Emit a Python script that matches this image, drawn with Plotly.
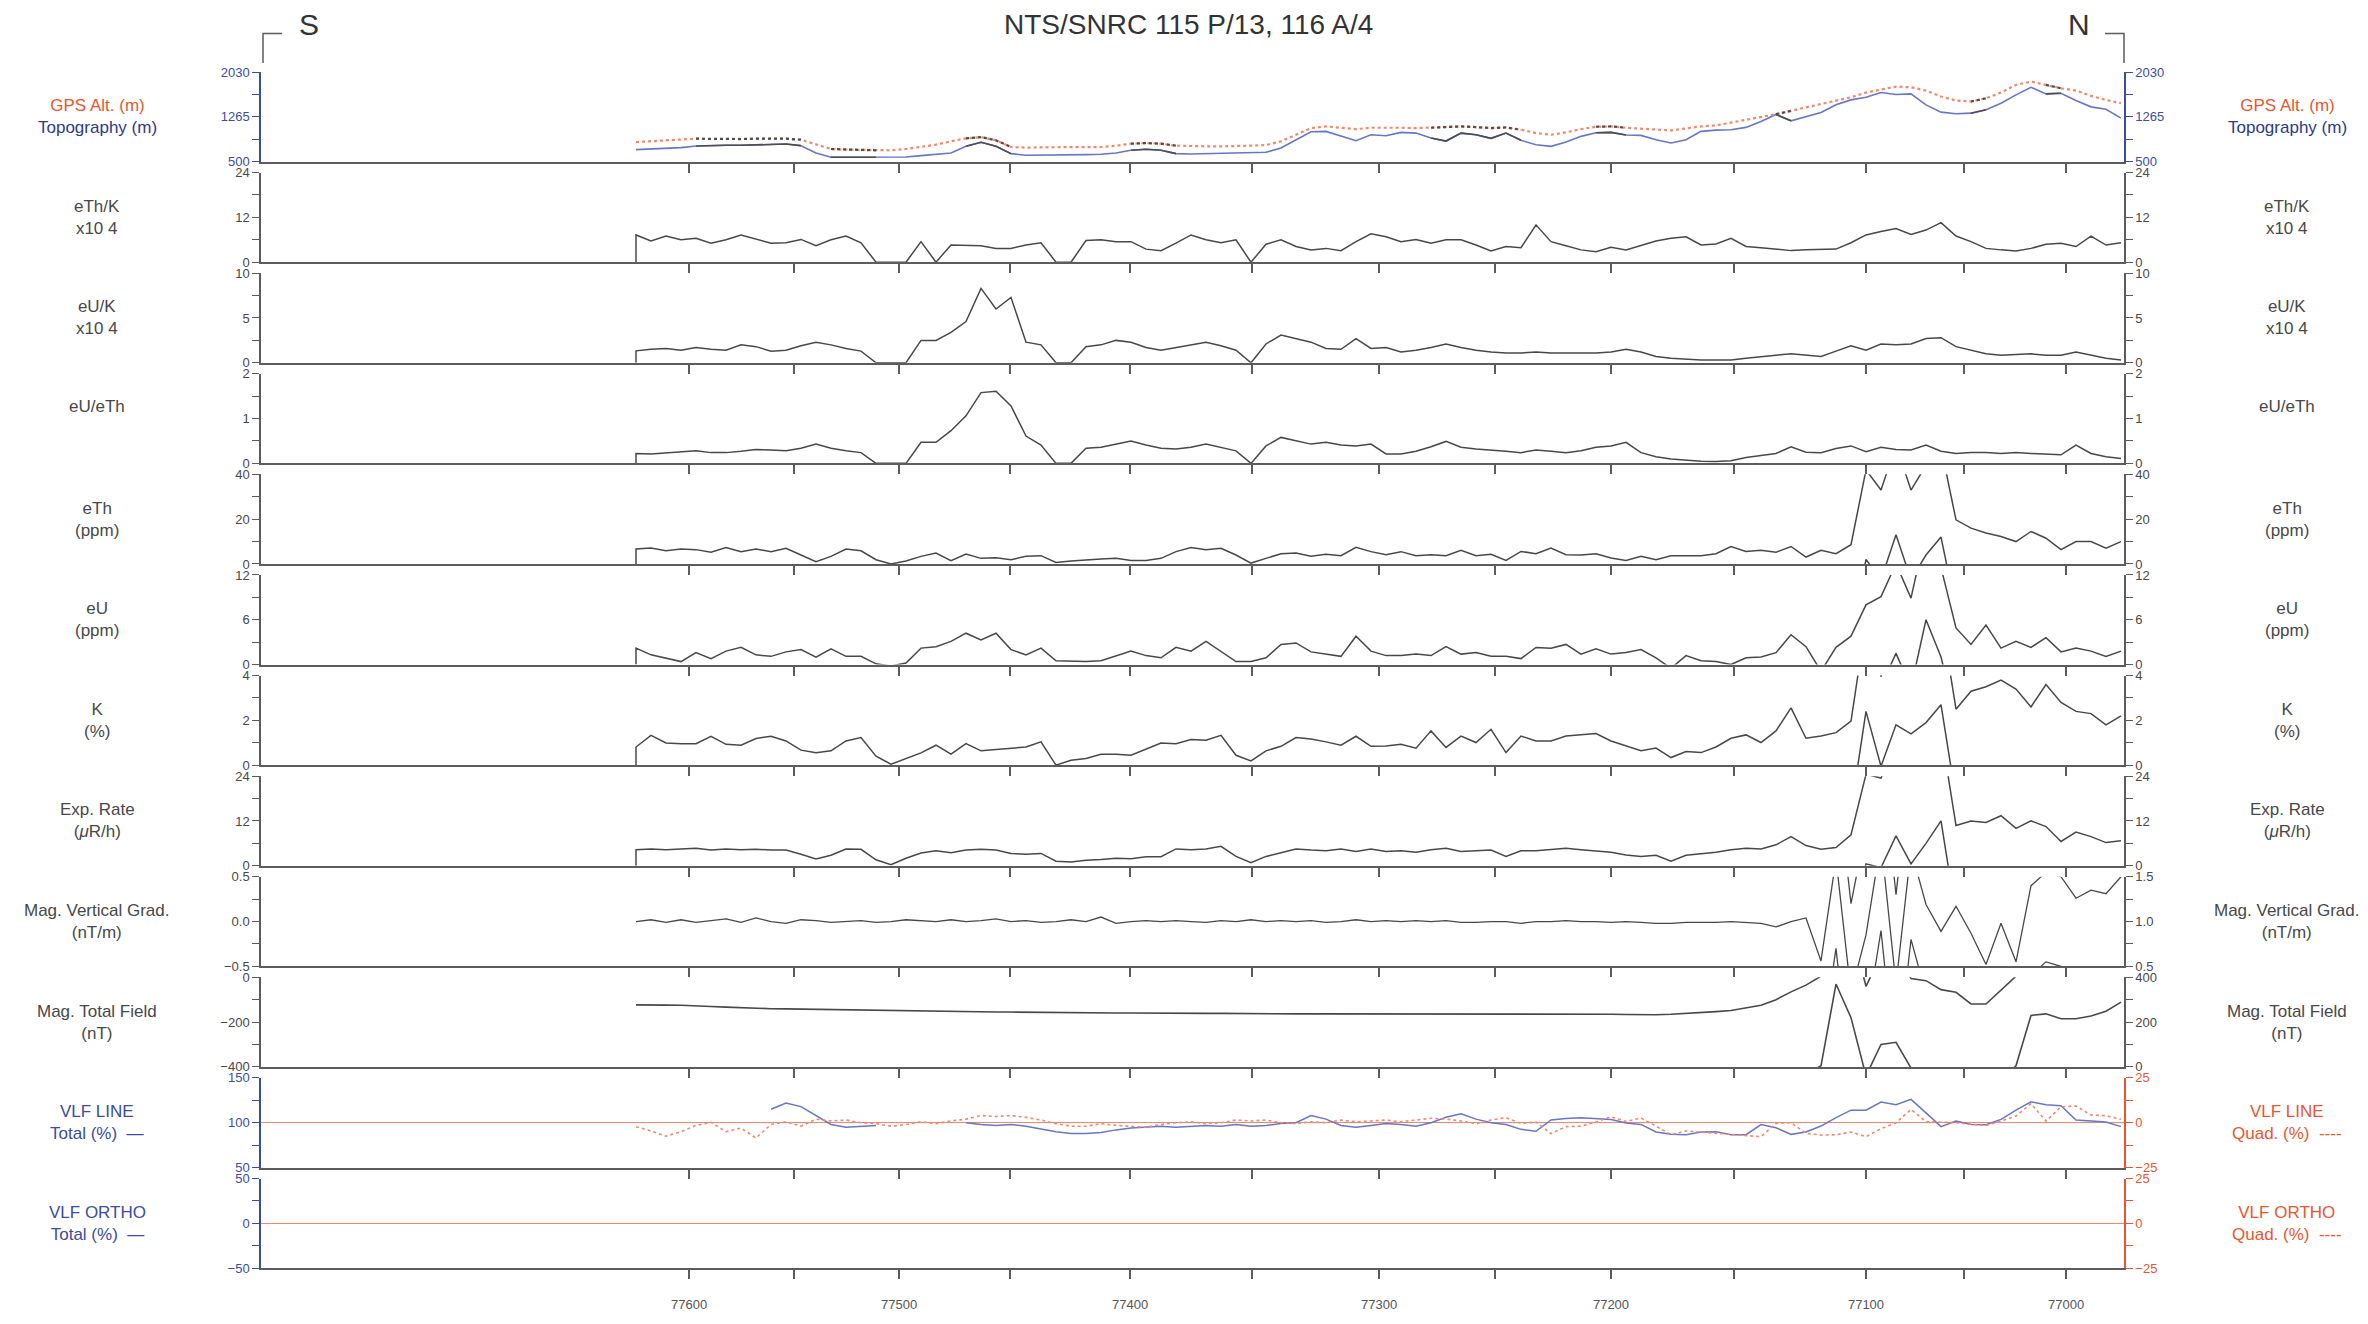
import numpy as np
import plotly.graph_objects as go

FONT = "Liberation Sans, Arial, sans-serif"
INK = "#484848"
AXIS = "#5c5c5c"
BLUE = "#3b4ca3"
BLUE_LINE = "#6676c8"
RED = "#ea5530"
RED_LINE = "#f3876b"

# along-line distance (km) of the samples, one every 0.5 km
DIST = [round(12.5 + 0.5 * k, 1) for k in range(100)]

# fiducial ticks along the flight line
FID = [77600, 77550, 77500, 77450, 77400, 77350, 77300, 77250, 77200, 77150, 77100, 77050, 77000]
FID_KM = [14.27, 17.77, 21.27, 24.97, 28.97, 33.03, 37.27, 41.13, 45.0, 49.1, 53.5, 56.77, 60.17]
LINE_KM = 62.1

# stretches where the altitude traces are drawn dark (km)
DARK_RUNS = [(14.5, 18.0), (19.0, 20.5), (23.5, 25.0), (29.0, 30.5), (39.0, 42.0),
             (44.5, 45.5), (50.5, 51.0), (57.0, 57.5), (59.5, 60.0)]

GPS_ALT = [834, 846, 857, 868, 891, 885, 885, 885, 891, 891, 891, 874, 789, 715, 704, 704, 693, 693, 715, 749,
           789, 846, 897, 919, 863, 749, 738, 744, 744, 744, 744, 749, 772, 806, 817, 806, 772, 761, 761, 761,
           761, 772, 783, 846, 959, 1072, 1101, 1072, 1055, 1078,
           1084, 1078, 1072, 1078, 1095, 1101, 1089, 1072, 1084, 1044, 987, 959, 999, 1055, 1095, 1101, 1078, 1061, 1038, 1033,
           1067, 1101, 1118, 1163, 1208, 1259, 1310, 1367, 1424, 1475, 1531, 1599, 1679, 1735, 1781, 1769, 1713, 1611, 1543, 1526,
           1582, 1679, 1809, 1866, 1809, 1752, 1713, 1622, 1554, 1497]
TOPO = [704, 715, 727, 738, 766, 778, 778, 778, 783, 789, 800, 772, 647, 574, 574, 579, 574, 574, 579, 602,
        625, 647, 761, 829, 761, 636, 608, 608, 608, 613, 619, 625, 647, 693, 710, 693, 636, 630, 636, 642,
        642, 647, 659, 732, 874, 1010, 1016, 942, 857, 959,
        942, 999, 987, 902, 851, 987, 959, 897, 987, 863, 789, 761, 834, 931, 993, 999, 953, 948, 874, 817,
        874, 1016, 1038, 1044, 1084, 1186, 1305, 1197, 1271, 1339, 1469, 1554, 1599, 1679, 1645, 1656, 1469, 1344, 1316, 1327,
        1384, 1497, 1639, 1769, 1656, 1667, 1543, 1435, 1395, 1242]
ETH_K = [7.3, 5.7, 7.0, 6.0, 6.4, 5.1, 6.0, 7.3, 6.1, 5.1, 5.2, 6.1, 4.4, 6.0, 7.0, 5.2, 0, 0, 0, 5.5,
         0, 4.6, 4.6, 4.4, 3.7, 3.7, 4.6, 5.2, 0, 0, 5.8, 6.0, 5.5, 5.5, 3.5, 3.1, 5.1, 7.3, 6.0, 5.2,
         6.0, 0, 4.8, 6.0, 4.2, 3.3, 3.7, 3.1, 5.5, 7.6,
         6.8, 5.5, 6.1, 5.1, 6.0, 6.0, 4.6, 3.0, 4.2, 3.9, 10.0, 5.5, 4.4, 3.3, 2.8, 4.0, 3.3, 4.6, 5.7, 6.4,
         6.8, 4.6, 4.9, 6.4, 4.2, 3.9, 3.5, 3.1, 3.3, 3.5, 3.5, 5.2, 7.3, 8.2, 9.0, 7.4, 8.6, 10.6, 7.0, 5.5,
         3.7, 3.3, 3.0, 3.7, 4.8, 5.1, 4.2, 7.0, 4.6, 5.2]
EU_K = [1.33, 1.5, 1.6, 1.4, 1.7, 1.5, 1.4, 2.0, 1.8, 1.3, 1.4, 1.9, 2.3, 2.0, 1.6, 1.3, 0, 0, 0, 2.5,
        2.5, 3.4, 4.6, 8.3, 6.0, 7.3, 2.3, 2.0, 0, 0, 1.8, 2.0, 2.5, 2.3, 1.7, 1.4, 1.7, 2.0, 2.3, 1.9,
        1.4, 0, 2.1, 3.1, 2.7, 2.3, 1.6, 1.5, 2.7, 1.6,
        1.7, 1.2, 1.4, 1.7, 2.1, 1.7, 1.4, 1.2, 1.1, 1.1, 1.2, 1.1, 1.1, 1.1, 1.1, 1.2, 1.5, 1.2, 0.7, 0.5,
        0.4, 0.3, 0.3, 0.3, 0.5, 0.7, 0.85, 1.0, 0.85, 0.7, 1.3, 1.9, 1.4, 2.1, 2.0, 2.1, 2.7, 2.8, 1.8, 1.4,
        1.0, 0.85, 0.9, 1.0, 0.85, 0.85, 1.2, 0.85, 0.5, 0.3]
EU_ETH = [0.22, 0.21, 0.23, 0.25, 0.28, 0.24, 0.24, 0.27, 0.31, 0.30, 0.28, 0.34, 0.43, 0.34, 0.28, 0.24, 0, 0, 0, 0.47,
          0.47, 0.73, 1.06, 1.58, 1.61, 1.28, 0.61, 0.41, 0, 0, 0.34, 0.36, 0.43, 0.50, 0.41, 0.34, 0.32, 0.36, 0.43, 0.36,
          0.28, 0, 0.39, 0.58, 0.50, 0.43, 0.47, 0.41, 0.39, 0.43,
          0.21, 0.21, 0.27, 0.37, 0.49, 0.36, 0.32, 0.30, 0.27, 0.24, 0.30, 0.27, 0.24, 0.28, 0.36, 0.39, 0.47, 0.24, 0.15, 0.10,
          0.07, 0.05, 0.04, 0.06, 0.13, 0.17, 0.22, 0.37, 0.25, 0.24, 0.33, 0.39, 0.26, 0.36, 0.31, 0.30, 0.41, 0.27, 0.22, 0.24,
          0.24, 0.22, 0.24, 0.22, 0.21, 0.19, 0.41, 0.22, 0.15, 0.11]
ETH = [6.7, 7.1, 5.9, 6.7, 6.4, 5.2, 7.3, 5.5, 6.7, 5.5, 7.0, 4.0, 1.0, 3.4, 6.7, 5.9, 1.9, 0, 1.3, 3.4,
       4.9, 1.5, 4.4, 2.5, 2.8, 1.9, 3.4, 3.7, 0.7, 1.3, 1.9, 2.2, 2.5, 1.6, 1.6, 2.5, 5.5, 7.3, 6.4, 7.0,
       4.0, 0.4, 2.5, 4.6, 4.9, 3.4, 4.3, 3.7, 7.4, 5.5,
       4.1, 5.5, 3.7, 4.1, 3.7, 6.1, 3.7, 4.3, 1.6, 5.6, 4.6, 7.1, 4.1, 4.0, 4.6, 2.7, 1.6, 3.4, 1.9, 3.7,
       3.7, 3.7, 4.6, 7.8, 5.6, 6.1, 5.2, 7.8, 3.1, 6.1, 4.6, 8.6, 42, 33, 53, 33, 44, 52, 19.7, 16,
       13.8, 12.3, 10, 14.5, 11.5, 6.4, 10, 10, 7.1, 10]
EU = [2.2, 1.3, 0.9, 0.4, 1.6, 0.8, 1.8, 2.3, 1.3, 1.1, 1.7, 2.0, 1.0, 2.1, 1.1, 1.1, 0.1, -0.2, 0.2, 2.2,
      2.4, 3.1, 4.2, 3.3, 4.2, 2.0, 1.3, 2.2, 0.5, 0.4, 0.4, 0.5, 1.2, 1.8, 1.2, 0.9, 2.3, 1.8, 3.1, 1.8,
      0.4, 0.4, 0.9, 2.7, 2.9, 1.7, 1.4, 1.1, 3.8, 1.8,
      1.2, 1.2, 1.4, 1.2, 2.4, 1.4, 1.6, 1.1, 1.1, 0.8, 2.3, 2.2, 2.7, 1.4, 2.1, 1.4, 1.6, 2.0, 0.9, -0.5,
      1.2, 0.5, 0.4, 0, 0.9, 1.0, 1.6, 4.0, 2.4, -0.9, 2.3, 3.8, 8.0, 9.1, 13.5, 8.9, 18, 13, 4.9, 2.7,
      5.3, 2.2, 3.1, 2.3, 3.6, 1.7, 2.2, 1.8, 1.1, 1.8]
K = [0.81, 1.33, 0.99, 0.96, 0.96, 1.29, 0.93, 0.89, 1.19, 1.29, 1.08, 0.67, 0.55, 0.64, 1.08, 1.23, 0.40, 0.04, 0.30, 0.55,
     0.89, 0.49, 0.96, 0.64, 0.70, 0.74, 0.81, 1.04, 0, 0.22, 0.30, 0.49, 0.49, 0.44, 0.70, 0.99, 0.96, 1.14, 1.11, 1.33,
     0.44, 0.19, 0.64, 0.84, 1.23, 1.17, 1.04, 0.89, 1.29, 0.84,
     0.86, 0.93, 0.76, 1.53, 0.79, 1.30, 1.01, 1.60, 0.56, 1.30, 1.08, 1.08, 1.30, 1.35, 1.41, 1.08, 0.86, 0.64, 0.76, 0.34,
     0.61, 0.56, 0.81, 1.20, 1.35, 1.01, 1.53, 2.56, 1.20, 1.30, 1.45, 1.97, 6.4, 3.95, 5.8, 5.4, 5.9, 6.7, 2.5, 3.3,
     3.5, 3.8, 3.4, 2.6, 3.6, 2.8, 2.4, 2.3, 1.8, 2.2]
EXP_RATE = [4.3, 4.5, 4.3, 4.5, 4.7, 4.2, 4.5, 4.3, 4.4, 4.2, 4.2, 3.1, 1.8, 2.8, 4.5, 4.4, 1.6, 0.3, 2.0, 3.4,
            4.0, 3.5, 4.2, 4.4, 4.2, 3.3, 3.1, 3.3, 1.2, 1.0, 1.5, 1.7, 2.0, 1.9, 2.4, 2.4, 4.5, 4.3, 4.5, 5.2,
            2.5, 0.8, 2.5, 3.5, 4.5, 4.2, 4.0, 4.5, 3.8, 4.5,
            3.8, 4.0, 3.6, 4.3, 4.7, 3.8, 4.0, 4.2, 2.5, 4.0, 4.0, 4.3, 4.7, 4.3, 4.0, 3.6, 2.9, 2.5, 2.8, 1.2,
            2.8, 3.1, 3.6, 4.3, 4.7, 4.5, 5.6, 7.8, 5.4, 4.4, 4.9, 8.3, 24.5, 23.5, 32, 24.5, 30, 36, 10.8, 12.0,
            11.6, 13.4, 10.0, 12.0, 10.5, 6.5, 9.0, 7.8, 6.2, 6.7]
MAG_VG = [0.00, 0.02, -0.01, 0.02, -0.01, 0.01, 0.03, -0.01, 0.04, 0.00,
          -0.02, 0.02, 0.01, -0.01, 0.00, 0.01, -0.01, 0.00, 0.02, 0.01,
          0.00, 0.02, 0.00, 0.01, 0.03, 0.00, 0.01, -0.01, 0.00, 0.02,
          0.00, 0.05, -0.02, 0.00, 0.01, 0.00, 0.01, 0.00, -0.01, 0.01,
          0.00, 0.02, 0.00, 0.01, 0.00, 0.01, -0.01, 0.00, 0.02, 0.00,
          0.01, 0.00, 0.01, 0.00, 0.01, -0.01, -0.01, 0.00, 0.00, -0.02,
          0.00, 0.00, 0.01, 0.00, 0.00, -0.01, 0.00, -0.01, -0.02, -0.02,
          -0.01, -0.01, -0.01, 0.00, -0.01, -0.02, -0.06, 0.00, 0.04, -0.44,
          0.7, -0.8, -0.15, 0.9, -0.7, 0.8, 0.19, -0.11, 0.17, -0.13,
          -0.48, -0.02, -0.45, 0.40, 0.55, 0.50, 0.26, 0.35, 0.31, 0.50]
MAG_TF = [-123, -122, -124, -125, -126, -130, -133, -136, -138, -140,
          -141, -142, -143, -144, -146, -148, -150, -151, -152, -152,
          -153, -153, -154, -154, -155, -155, -156, -156, -157, -157,
          -158, -158, -159, -159, -160, -160, -160, -161, -161, -161,
          -162, -162, -162, -162, -163, -163, -163, -163, -163, -164,
          -164, -164, -164, -164, -164, -165, -165, -164, -164, -163,
          -163, -163, -162, -162, -163, -165, -166, -167, -167, -165,
          -162, -158, -153, -148, -138, -125, -100, -65, -35, 5,
          370, 220, -40, 100, 110, -5, -15, -55, -67, -119,
          -119, -59, 5, 230, 237, 215, 215, 227, 249, 289]
VLF_TOTAL = [None] * 9 + [115, 122, 118, 108, 98, 95, 96, 97] + [None] * 5 + \
    [100, 98, 97, 98, 96, 93, 90, 88, 88, 89, 92, 94, 95, 96, 95, 96, 97, 96, 98, 96,
     97, 99, 100, 108, 104, 97, 95, 97, 99, 98, 96, 100, 106, 110, 104, 100,
     98, 92.6, 90.4, 103, 104.8, 105.6, 104.8, 103.7, 99.6, 98.1, 89.6, 87, 86.7, 89.6, 90, 86.7, 86.7, 98, 94.4, 87,
     89.6, 96.3, 105.6, 114, 114, 123, 120, 126, 111, 95.6, 101.9, 98.1, 97.8, 103.7, 114, 123.3, 120, 119, 103, 101.9,
     100.7, 95.6]
VLF_QUAD = [-2.2, -4.6, -7.5, -5, -1.5, 0.3, -5, -3, -8.5, -1, 0.5, -1.9,
            2, 1, 1.5, 0, -0.5, -2, -1, 0.5, -0.5, 1, 2, 4, 3.5, 4, 3, 1.5, -0.5, -2,
            -2, -0.5, -1.5, -2, -2.5, -1, 0, 0.5, -0.5, 0, 1.5, 1, 1.5, 0, -0.5, 0.5,
            0, 1.5, 0.5, 1, 1.5, 0.5, 1.5, 2.5, 2, 1, -0.5, 1.5,
            2.8, -0.4, 0.4, -6.1, -2.2, -1.9, 0.4, 3.3, 0.7, 2.6, -1.9, -6.7, -4.6, -5.2, -5.9, -6.7, -7.4, -7.8,
            -0.4, 0, -5.9, -6.9, -6.7, -5.2, -7.8, -3.3, 0, 7.4, 0.6, 0.4, 0, -0.9, -1.5, 0.9, 3.7, 10.7,
            0.9, 8.9, 9.3, 4.3, 3.9, 1.9]

# panel axes: (left range, left labels, right range, right labels, left colour, right colour)
PANELS = [
    ([500, 2030], ["500", "1265", "2030"], [500, 2030], ["500", "1265", "2030"], BLUE, BLUE),
    ([0, 24], ["0", "12", "24"], [0, 24], ["0", "12", "24"], AXIS, AXIS),
    ([0, 10], ["0", "5", "10"], [0, 10], ["0", "5", "10"], AXIS, AXIS),
    ([0, 2], ["0", "1", "2"], [0, 2], ["0", "1", "2"], AXIS, AXIS),
    ([0, 40], ["0", "20", "40"], [0, 40], ["0", "20", "40"], AXIS, AXIS),
    ([0, 12], ["0", "6", "12"], [0, 12], ["0", "6", "12"], AXIS, AXIS),
    ([0, 4], ["0", "2", "4"], [0, 4], ["0", "2", "4"], AXIS, AXIS),
    ([0, 24], ["0", "12", "24"], [0, 24], ["0", "12", "24"], AXIS, AXIS),
    ([-0.5, 0.5], ["\u22120.5", "0.0", "0.5"], [0.5, 1.5], ["0.5", "1.0", "1.5"], AXIS, AXIS),
    ([-400, 0], ["\u2212400", "\u2212200", "0"], [0, 400], ["0", "200", "400"], AXIS, AXIS),
    ([50, 150], ["50", "100", "150"], [-25, 25], ["\u221225", "0", "25"], BLUE, RED),
    ([-50, 50], ["\u221250", "0", "50"], [-25, 25], ["\u221225", "0", "25"], BLUE, RED),
]

LEFT_LABELS = [
    f"<span style='color:{RED}'>GPS Alt. (m)</span><br><span style='color:#2c3a8a'>Topography (m)</span>",
    "eTh/K<br>x10 4", "eU/K<br>x10 4", "eU/eTh", "eTh<br>(ppm)", "eU<br>(ppm)", "K<br>(%)",
    "Exp. Rate<br>(<i>\u03bc</i>R/h)", "Mag. Vertical Grad.<br>(nT/m)", "Mag. Total Field<br>(nT)",
    f"<span style='color:{BLUE}'>VLF LINE<br>Total (%)  \u2014</span>",
    f"<span style='color:{BLUE}'>VLF ORTHO<br>Total (%)  \u2014</span>",
]
RIGHT_LABELS = LEFT_LABELS[:10] + [
    f"<span style='color:{RED}'>VLF LINE<br>Quad. (%)  ----</span>",
    f"<span style='color:{RED}'>VLF ORTHO<br>Quad. (%)  ----</span>",
]

W, H = 2368, 1324
ML, MR, MT, MB = 261, 244, 72, 43
PH, STEP = 90.5, 101.6


def px_x(X):
    return (X - ML) / (W - ML - MR)


def px_y(Y):
    return (H - MB - Y) / (H - MT - MB)


def ax_id(n):
    return "" if n == 1 else str(n)


fig = go.Figure()


def line(x, y, panel, right=False, color=INK, width=1.5, dash="solid"):
    n = panel + 1
    fig.add_trace(go.Scatter(
        x=x, y=y, mode="lines", xaxis="x" + ax_id(n),
        yaxis="y" + (str(n + 12) if right else ax_id(n)),
        line=dict(color=color, width=width, dash=dash),
        connectgaps=False, hoverinfo="skip", showlegend=False))


def dark(vals):
    return [v if any(a <= d <= b for a, b in DARK_RUNS) else None for d, v in zip(DIST, vals)]


# altitude panel
line(DIST, TOPO, 0, color=BLUE_LINE, width=1.6)
line(DIST, GPS_ALT, 0, color=RED_LINE, width=2.2, dash="dot")
line(DIST, dark(TOPO), 0, color="#4d4d4d", width=1.6)
line(DIST, dark(GPS_ALT), 0, color="#4d4d4d", width=2.2, dash="dot")

# radiometric panels: the trace starts from the baseline; values over the top wrap to the bottom
for panel, vals, top in [(1, ETH_K, None), (2, EU_K, None), (3, EU_ETH, None), (4, ETH, 40),
                         (5, EU, 12), (6, K, 4), (7, EXP_RATE, 24)]:
    line([DIST[0]] + DIST, [0] + vals, panel)
    if top:
        line(DIST, [v - top for v in vals], panel)

# magnetics, wrapped over the panel height
for shift in (0, -1, 1):
    line(DIST, [v + shift for v in MAG_VG], 8, width=1.3)
for shift in (0, -400):
    line(DIST, [v + shift for v in MAG_TF], 9, width=1.6)

# VLF line: total on the left scale, quadrature on the right scale
line(DIST, VLF_TOTAL, 10, color=BLUE_LINE, width=1.5)
line(DIST, VLF_QUAD, 10, right=True, color=RED_LINE, width=1.6, dash="dot")

# empty traces so every axis pair (incl. the data-less VLF ORTHO panel) is drawn
for p in range(12):
    line([], [], p)
    line([], [], p, right=True)

layout = dict(
    width=W, height=H, margin=dict(l=ML, r=MR, t=MT, b=MB),
    paper_bgcolor="white", plot_bgcolor="white", showlegend=False,
    font=dict(family=FONT, size=13, color=INK), hovermode=False,
)

fid_text = [str(f) if f % 100 == 0 else "" for f in FID]

for i, (lr, ll, rr, rl, lc, rc) in enumerate(PANELS):
    n = i + 1
    top = MT + STEP * i
    dom = [px_y(top + PH), px_y(top)]
    layout["xaxis" + ax_id(n)] = dict(
        domain=[0, 1], anchor="y" + ax_id(n), range=[0, LINE_KM],
        showline=True, linecolor=AXIS, linewidth=2, mirror=False,
        ticks="outside", ticklen=9, tickwidth=1.5, tickcolor=AXIS,
        tickvals=FID_KM, ticktext=fid_text, showticklabels=(i == 11),
        tickfont=dict(size=13, color="#555"), ticklabelstandoff=14,
        showgrid=False, zeroline=False, fixedrange=True)
    common = dict(domain=dom, anchor="x" + ax_id(n), showline=True, linewidth=1.5,
                  ticks="outside", ticklen=7, tickwidth=1.3, showgrid=False,
                  fixedrange=True)
    layout["yaxis" + ax_id(n)] = dict(
        common, range=lr, side="left", linecolor=lc, tickcolor=lc,
        tickvals=list(np.linspace(lr[0], lr[1], 5)), ticktext=[ll[0], "", ll[1], "", ll[2]],
        tickfont=dict(size=13, color=lc if lc != AXIS else INK), zeroline=False)
    vlf = i >= 10
    layout["yaxis" + str(n + 12)] = dict(
        common, range=rr, side="right", overlaying="y" + ax_id(n), linecolor=rc, tickcolor=rc,
        tickvals=list(np.linspace(rr[0], rr[1], 5)), ticktext=[rl[0], "", rl[1], "", rl[2]],
        tickfont=dict(size=13, color=rc if rc != AXIS else INK),
        zeroline=vlf, zerolinecolor=RED_LINE, zerolinewidth=1.4)

annotations = []
for i in range(12):
    cy = MT + STEP * i + PH / 2
    if "<br>" not in LEFT_LABELS[i]:
        cy -= 12
    for X, txt in ((97, LEFT_LABELS[i]), (2287, RIGHT_LABELS[i])):
        annotations.append(dict(x=px_x(X), y=px_y(cy), xref="paper", yref="paper", text=txt,
                                showarrow=False, xanchor="center", yanchor="middle",
                                font=dict(size=17, color=INK)))

for X, txt, size in ((1188, "NTS/SNRC 115 P/13, 116 A/4", 28), (309, "S", 30), (2079, "N", 30)):
    annotations.append(dict(x=px_x(X), y=px_y(24), xref="paper", yref="paper", text=txt,
                            showarrow=False, xanchor="center", yanchor="middle",
                            font=dict(size=size, color="#333")))
layout["annotations"] = annotations

# corner brackets above the profile ends
bx = [(263, 282), (2124, 2105)]
layout["shapes"] = [
    dict(type="path", xref="paper", yref="paper",
         path=f"M {px_x(a)},{px_y(63)} L {px_x(a)},{px_y(33)} L {px_x(b)},{px_y(33)}",
         line=dict(color=AXIS, width=1.5))
    for a, b in bx
]

fig.update_layout(layout)
fig.write_html("out.html", config={"displayModeBar": False})

with open("out.html", encoding="utf-8") as f:
    html = f.read()
html = html.replace("<head>", "<head><style>body{margin:0;overflow:hidden}</style>", 1)
with open("out.html", "w", encoding="utf-8") as f:
    f.write(html)
